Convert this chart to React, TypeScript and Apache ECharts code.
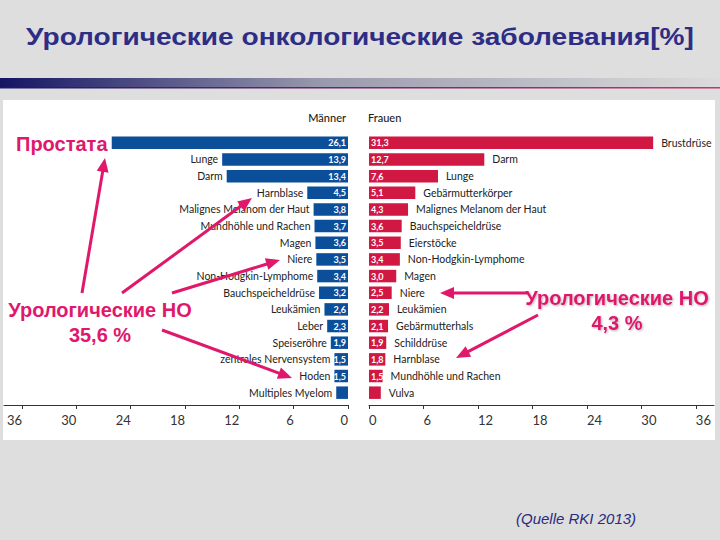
import React, { useEffect, useRef } from 'react'
import * as echarts from 'echarts'

// RKI 2013, Anteil an Krebsneuerkrankungen in %
const menCategories = [
    'Prostata', 'Lunge', 'Darm', 'Harnblase', 'Malignes Melanom der Haut',
    'Mundhöhle und Rachen', 'Magen', 'Niere', 'Non-Hodgkin-Lymphome', 'Bauchspeicheldrüse',
    'Leukämien', 'Leber', 'Speiseröhre', 'zentrales Nervensystem', 'Hoden', 'Multiples Myelom',
]
const menValues = [26.1, 13.9, 13.4, 4.5, 3.8, 3.7, 3.6, 3.5, 3.4, 3.2, 2.6, 2.3, 1.9, 1.5, 1.5, 1.3]

const womenCategories = [
    'Brustdrüse', 'Darm', 'Lunge', 'Gebärmutterkörper', 'Malignes Melanom der Haut',
    'Bauchspeicheldrüse', 'Eierstöcke', 'Non-Hodgkin-Lymphome', 'Magen', 'Niere',
    'Leukämien', 'Gebärmutterhals', 'Schilddrüse', 'Harnblase', 'Mundhöhle und Rachen', 'Vulva',
]
const womenValues = [31.3, 12.7, 7.6, 5.1, 4.3, 3.6, 3.5, 3.4, 3.0, 2.5, 2.2, 2.1, 1.9, 1.8, 1.5, 1.3]

const axisTicks = [0, 6, 12, 18, 24, 30, 36]

// name label covered by the russian annotation on the slide
const hiddenNames = ['Prostata']

const BLUE = '#0b4f9b'
const RED = '#d11843'
const PINK = '#e0186c'

// annotation arrows [from, to]
const arrows: number[][][] = [
    [[82, 293], [105, 158]],
    [[122, 293], [252, 198]],
    [[172, 293], [280, 260]],
    [[162, 330], [292, 378]],
    [[528, 293], [440, 293]],
    [[538, 315], [456, 358]],
]

const arrowGraphics = (from: number[], to: number[]) => {
    const dx = to[0] - from[0]
    const dy = to[1] - from[1]
    const len = Math.hypot(dx, dy)
    const ux = dx / len
    const uy = dy / len
    const head = 14
    const half = 6
    const bx = to[0] - ux * head
    const by = to[1] - uy * head
    return [
        {
            type: 'line',
            z: 100,
            shape: { x1: from[0], y1: from[1], x2: bx + ux * 2, y2: by + uy * 2 },
            style: { stroke: PINK, lineWidth: 3 },
        },
        {
            type: 'polygon',
            z: 100,
            shape: { points: [to, [bx - uy * half, by + ux * half], [bx + uy * half, by - ux * half]] },
            style: { fill: PINK },
        },
    ]
}

const valueLabel = (p: any) => (p.value < 1.45 ? '' : p.value.toFixed(1).replace('.', ','))

const App = () => {
    const chartRef = useRef<HTMLDivElement>(null)

    useEffect(() => {
        if (!chartRef.current) return
        const chart = echarts.init(chartRef.current, null, { renderer: 'svg' })

        const gridTop = 134.5
        const gridBottom = 139
        const barWidth = '75%'

        const valueAxis = (gridIndex: number, inverse: boolean) => ({
            type: 'value',
            gridIndex,
            min: 0,
            max: 38,
            interval: 6,
            inverse,
            offset: 4,
            splitLine: { show: false },
            axisLine: { show: true, lineStyle: { color: '#333', width: 1 } },
            axisTick: { show: true, length: 4, customValues: axisTicks, lineStyle: { color: '#333' } },
            axisLabel: {
                customValues: axisTicks,
                align: inverse ? 'right' : 'left',
                margin: 8,
                fontFamily: 'Lato',
                fontSize: 13,
                color: '#333',
            },
        })

        const catAxis = (gridIndex: number, data: string[]) => ({
            type: 'category',
            gridIndex,
            data,
            inverse: true,
            show: false,
        })

        const labelFont = { fontFamily: 'Lato', fontSize: 10.5, color: '#222' }

        const nameData = (cats: string[], vals: number[]) =>
            vals.map((v, i) => ({ value: v, label: { show: !hiddenNames.includes(cats[i]) } }))

        const option = {
            animation: false,
            backgroundColor: '#dedede',
            grid: [
                { left: 4, right: 372, top: gridTop, bottom: gridBottom },
                { left: 369, right: 6, top: gridTop, bottom: gridBottom },
            ],
            xAxis: [valueAxis(0, true), valueAxis(1, false)],
            yAxis: [catAxis(0, menCategories), catAxis(1, womenCategories)],
            series: [
                {
                    type: 'bar',
                    xAxisIndex: 0,
                    yAxisIndex: 0,
                    data: menValues,
                    barWidth,
                    itemStyle: { color: BLUE },
                    label: {
                        show: true,
                        position: 'insideRight',
                        distance: 2,
                        formatter: valueLabel,
                        color: '#fff',
                        fontFamily: 'Lato',
                        fontWeight: 'bold',
                        fontSize: 9,
                    },
                },
                {
                    type: 'bar',
                    xAxisIndex: 0,
                    yAxisIndex: 0,
                    data: nameData(menCategories, menValues),
                    barWidth,
                    barGap: '-100%',
                    silent: true,
                    itemStyle: { color: 'transparent' },
                    label: { show: true, position: 'left', distance: 4, formatter: '{b}', ...labelFont },
                },
                {
                    type: 'bar',
                    xAxisIndex: 1,
                    yAxisIndex: 1,
                    data: womenValues,
                    barWidth,
                    itemStyle: { color: RED },
                    label: {
                        show: true,
                        position: 'insideLeft',
                        distance: 2,
                        formatter: valueLabel,
                        color: '#fff',
                        fontFamily: 'Lato',
                        fontWeight: 'bold',
                        fontSize: 9,
                    },
                },
                {
                    type: 'bar',
                    xAxisIndex: 1,
                    yAxisIndex: 1,
                    data: nameData(womenCategories, womenValues),
                    barWidth,
                    barGap: '-100%',
                    silent: true,
                    itemStyle: { color: 'transparent' },
                    label: { show: true, position: 'right', distance: 8, formatter: '{b}', ...labelFont },
                },
            ],
            graphic: [
                {
                    type: 'rect',
                    z: -10,
                    shape: { x: 3, y: 100, width: 712, height: 340 },
                    style: { fill: '#fff' },
                },
                {
                    type: 'rect',
                    z: -5,
                    shape: { x: 0, y: 78, width: 720, height: 9 },
                    style: {
                        fill: new echarts.graphic.LinearGradient(0, 0, 1, 0, [
                            { offset: 0, color: '#141464' },
                            { offset: 0.45, color: '#9a9aae' },
                            { offset: 1, color: '#dcdcdc' },
                        ]),
                    },
                },
                {
                    type: 'rect',
                    z: -5,
                    shape: { x: 0, y: 87, width: 720, height: 1.5 },
                    style: {
                        fill: new echarts.graphic.LinearGradient(0, 0, 1, 0, [
                            { offset: 0, color: '#1a1a6a' },
                            { offset: 1, color: '#d03070' },
                        ]),
                    },
                },
                {
                    type: 'text',
                    x: 360,
                    y: 37,
                    scaleX: 1.17,
                    style: {
                        text: 'Урологические онкологические заболевания[%]',
                        font: 'bold 24px "Liberation Sans", Arial, sans-serif',
                        fill: '#2d2d86',
                        textAlign: 'center',
                        textVerticalAlign: 'middle',
                    },
                },
                {
                    type: 'text',
                    x: 346,
                    y: 117,
                    style: {
                        text: 'Männer',
                        font: '500 11px Lato',
                        fill: '#222',
                        textAlign: 'right',
                        textVerticalAlign: 'middle',
                    },
                },
                {
                    type: 'text',
                    x: 368,
                    y: 117,
                    style: {
                        text: 'Frauen',
                        font: '500 11px Lato',
                        fill: '#222',
                        textAlign: 'left',
                        textVerticalAlign: 'middle',
                    },
                },
                {
                    type: 'text',
                    z: 100,
                    x: 16,
                    y: 144,
                    style: {
                        text: 'Простата',
                        font: 'bold 20px "Liberation Sans", Arial, sans-serif',
                        fill: PINK,
                        textAlign: 'left',
                        textVerticalAlign: 'middle',
                    },
                },
                {
                    type: 'text',
                    z: 100,
                    x: 100,
                    y: 322,
                    style: {
                        text: 'Урологические НО\n35,6 %',
                        font: 'bold 20px "Liberation Sans", Arial, sans-serif',
                        lineHeight: 25,
                        fill: PINK,
                        backgroundColor: '#fff',
                        padding: [4, 3],
                        textAlign: 'center',
                        textVerticalAlign: 'middle',
                    },
                },
                {
                    type: 'text',
                    z: 100,
                    x: 617,
                    y: 310,
                    style: {
                        text: 'Урологические НО\n4,3 %',
                        font: 'bold 20px "Liberation Sans", Arial, sans-serif',
                        lineHeight: 25,
                        fill: PINK,
                        textAlign: 'center',
                        textVerticalAlign: 'middle',
                        textShadowColor: 'rgba(0,0,0,0.3)',
                        textShadowBlur: 2,
                        textShadowOffsetX: 1,
                        textShadowOffsetY: 1,
                    },
                },
                ...arrows.flatMap(([from, to]) => arrowGraphics(from, to)),
                {
                    type: 'text',
                    x: 516,
                    y: 518,
                    style: {
                        text: '(Quelle RKI 2013)',
                        font: 'italic 15px "Liberation Sans", Arial, sans-serif',
                        fill: '#2b2b7e',
                        textAlign: 'left',
                        textVerticalAlign: 'middle',
                    },
                },
            ],
        }

        try {
            chart.setOption(option as any)
        } catch (err) {
            console.error('Error setting chart options:', err)
        }

        return () => {
            chart.dispose()
        }
    }, [])

    return (
        <div
            ref={chartRef}
            style={{ position: 'fixed', left: 0, top: 0, width: '720px', height: '540px' }}
        />
    )
}

export default App
